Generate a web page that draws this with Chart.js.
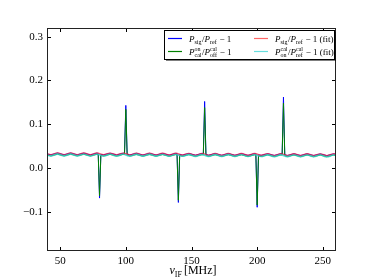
<!DOCTYPE html>
<html>
<head>
<meta charset="utf-8">
<script src="https://cdn.jsdelivr.net/npm/chart.js@4"></script>
<style>
  html, body { margin: 0; padding: 0; background: #fff; }
  #wrap { width: 374px; height: 280px; }
</style>
</head>
<body>
<div id="wrap"><canvas id="c" width="374" height="280"></canvas></div>
<script>
// measured ratios (MHz / fractional)
const measFreq = [40, 43, 48, 53, 58, 63, 68, 73, 78, 79, 80, 81, 83, 88, 93, 98, 99, 100, 101, 103,
  108, 113, 118, 123, 128, 133, 138, 139, 140, 141, 143, 148, 153, 158, 159, 160, 161, 163,
  168, 173, 178, 183, 188, 193, 198, 199, 200, 201, 203, 208, 213, 218, 219, 220, 221, 223,
  228, 233, 238, 243, 248, 253, 258, 260];
const sigRatio = [0.032, 0.030, 0.034, 0.030, 0.034, 0.030, 0.0338, 0.0298, 0.0338, 0.033, -0.069, 0.031, 0.0298, 0.0336, 0.0296, 0.0336, 0.0335, 0.143, 0.032, 0.0296,
  0.0334, 0.0294, 0.0334, 0.0294, 0.0332, 0.0292, 0.0332, 0.033, -0.079, 0.031, 0.0292, 0.033, 0.029, 0.033, 0.0325, 0.152, 0.031, 0.029,
  0.0328, 0.0288, 0.0328, 0.0288, 0.0326, 0.0286, 0.0326, 0.032, -0.090, 0.030, 0.0286, 0.0324, 0.0284, 0.0324, 0.032, 0.162, 0.030, 0.0284,
  0.0322, 0.0282, 0.0322, 0.0282, 0.032, 0.028, 0.032, 0.031];
const calRatio = [0.0295, 0.0275, 0.0315, 0.0275, 0.0315, 0.0275, 0.0313, 0.0273, 0.0313, 0.030, -0.064, 0.029, 0.0273, 0.0311, 0.0271, 0.0311, 0.031, 0.134, 0.030, 0.0271,
  0.0309, 0.0269, 0.0309, 0.0269, 0.0307, 0.0267, 0.0307, 0.030, -0.074, 0.029, 0.0267, 0.0305, 0.0265, 0.0305, 0.030, 0.138, 0.029, 0.0265,
  0.0303, 0.0263, 0.0303, 0.0263, 0.0301, 0.0261, 0.0301, 0.030, -0.085, 0.028, 0.0261, 0.0299, 0.0259, 0.0299, 0.030, 0.148, 0.028, 0.0259,
  0.0297, 0.0257, 0.0297, 0.0257, 0.0295, 0.0255, 0.0295, 0.0285];

// fitted ripple
const fitFreq = [40, 43, 48, 53, 58, 63, 68, 73, 78, 83, 88, 93, 98, 103, 108, 113, 118, 123, 128, 133,
  138, 143, 148, 153, 158, 163, 168, 173, 178, 183, 188, 193, 198, 203, 208, 213, 218, 223,
  228, 233, 238, 243, 248, 253, 258, 260];
const sigFit = [0.032, 0.030, 0.034, 0.030, 0.034, 0.030, 0.0338, 0.0298, 0.0338, 0.0298, 0.0336, 0.0296, 0.0336, 0.0296, 0.0334, 0.0294, 0.0334, 0.0294, 0.0332, 0.0292,
  0.0332, 0.0292, 0.033, 0.029, 0.033, 0.029, 0.0328, 0.0288, 0.0328, 0.0288, 0.0326, 0.0286, 0.0326, 0.0286, 0.0324, 0.0284, 0.0324, 0.0284,
  0.0322, 0.0282, 0.0322, 0.0282, 0.032, 0.028, 0.032, 0.031];
const calFit = [0.0295, 0.0275, 0.0315, 0.0275, 0.0315, 0.0275, 0.0313, 0.0273, 0.0313, 0.0273, 0.0311, 0.0271, 0.0311, 0.0271, 0.0309, 0.0269, 0.0309, 0.0269, 0.0307, 0.0267,
  0.0307, 0.0267, 0.0305, 0.0265, 0.0305, 0.0265, 0.0303, 0.0263, 0.0303, 0.0263, 0.0301, 0.0261, 0.0301, 0.0261, 0.0299, 0.0259, 0.0299, 0.0259,
  0.0297, 0.0257, 0.0297, 0.0257, 0.0295, 0.0255, 0.0295, 0.0285];

const xTicks = [50, 100, 150, 200, 250];
const yTicks = [-0.1, 0.0, 0.1, 0.2, 0.3];

const SERIF = '"Liberation Serif", "DejaVu Serif", serif';
const pts = (xs, ys) => xs.map((x, i) => ({ x, y: ys[i] }));

// legend entries: parts are plain text, italic text, or stacked scripts
const legendItems = [
  { color: '#0000ff', col: 0, row: 0, parts: [{ i: 'P' }, { sub: 'sig' }, { t: '/' }, { i: 'P' }, { sub: 'ref' }, { t: ' − 1' }] },
  { color: '#008000', col: 0, row: 1, parts: [{ i: 'P' }, { sup: 'on', sub: 'cal' }, { t: '/' }, { i: 'P' }, { sup: 'cal', sub: 'off' }, { t: ' − 1' }] },
  { color: 'rgba(255,0,0,0.6)', col: 1, row: 0, parts: [{ i: 'P' }, { sub: 'sig' }, { t: '/' }, { i: 'P' }, { sub: 'ref' }, { t: ' − 1 (fit)' }] },
  { color: 'rgba(0,200,200,0.6)', col: 1, row: 1, parts: [{ i: 'P' }, { sup: 'cal', sub: 'on' }, { t: '/' }, { i: 'P' }, { sup: 'cal', sub: 'ref' }, { t: ' − 1 (fit)' }] },
];

function drawMath(ctx, x, y, parts, size) {
  const small = Math.round(size * 0.65);
  for (const p of parts) {
    if (p.t || p.i) {
      ctx.font = (p.i ? 'italic ' : '') + size + 'px ' + SERIF;
      const s = p.t || p.i;
      ctx.fillText(s, x, y);
      x += ctx.measureText(s).width;
    } else {
      ctx.font = small + 'px ' + SERIF;
      let w = 0;
      if (p.sup) { ctx.fillText(p.sup, x, y - 3.5); w = ctx.measureText(p.sup).width; }
      if (p.sub) { ctx.fillText(p.sub, x, y + 2); w = Math.max(w, ctx.measureText(p.sub).width); }
      x += w + 0.5;
    }
  }
  return x;
}

const decor = {
  id: 'decor',
  afterDraw(chart) {
    const { ctx, chartArea: a, scales: { x, y } } = chart;
    ctx.save();
    ctx.strokeStyle = '#000';
    ctx.lineWidth = 1;
    // inward ticks on all sides
    ctx.beginPath();
    xTicks.forEach(v => {
      const px = Math.round(x.getPixelForValue(v)) + 0.5;
      ctx.moveTo(px, a.bottom); ctx.lineTo(px, a.bottom - 4);
      ctx.moveTo(px, a.top); ctx.lineTo(px, a.top + 4);
    });
    yTicks.forEach(v => {
      const py = Math.round(y.getPixelForValue(v)) + 0.5;
      ctx.moveTo(a.left, py); ctx.lineTo(a.left + 4, py);
      ctx.moveTo(a.right, py); ctx.lineTo(a.right - 4, py);
    });
    ctx.stroke();
    ctx.strokeStyle = '#222';
    ctx.strokeRect(a.left + 0.5, a.top + 0.5, a.width - 1, a.height - 1);

    // legend box with shadow
    const lx = 164, ly = 30, lw = 170, lh = 29;
    ctx.fillStyle = 'rgba(0,0,0,0.5)';
    ctx.fillRect(lx + 2, ly + 2, lw, lh);
    ctx.fillStyle = '#fff';
    ctx.fillRect(lx, ly, lw, lh);
    ctx.strokeStyle = '#000';
    ctx.strokeRect(lx + 0.5, ly + 0.5, lw, lh);
    ctx.textBaseline = 'alphabetic';
    ctx.fillStyle = '#000';
    legendItems.forEach(it => {
      const x0 = it.col ? 254 : 168;
      const yc = it.row ? 51.5 : 38.5;
      ctx.strokeStyle = it.color;
      ctx.lineWidth = 1.2;
      ctx.beginPath(); ctx.moveTo(x0, yc); ctx.lineTo(x0 + 14, yc); ctx.stroke();
      drawMath(ctx, x0 + 21, yc + 3, it.parts, 9);
    });

    // x axis title
    ctx.fillStyle = '#000';
    ctx.font = 'italic 12px ' + SERIF;
    const cx = (a.left + a.right) / 2 - 22;
    ctx.fillText('ν', cx, 274);
    let tx = cx + ctx.measureText('ν').width;
    ctx.font = '8px ' + SERIF;
    ctx.fillText('IF', tx, 277);
    tx += ctx.measureText('IF').width + 2;
    ctx.font = '12px ' + SERIF;
    ctx.fillText('[MHz]', tx, 274);
    ctx.restore();
  }
};

const lineDs = (label, data, color, width, order, tension) => ({
  label, data, borderColor: color, borderWidth: width, pointRadius: 0,
  fill: false, tension, order,
});

new Chart(document.getElementById('c'), {
  type: 'line',
  data: {
    datasets: [
      lineDs('sig', pts(measFreq, sigRatio), '#0000ff', 1, 4, 0),
      lineDs('cal', pts(measFreq, calRatio), '#008000', 1, 3, 0),
      lineDs('sig fit', pts(fitFreq, sigFit), 'rgba(240,20,60,0.75)', 1.6, 2, 0.4),
      lineDs('cal fit', pts(fitFreq, calFit), 'rgba(40,210,200,0.8)', 1.6, 1, 0.4),
    ],
  },
  options: {
    responsive: false,
    animation: false,
    events: [],
    layout: { padding: { left: 0, right: 38, top: 28, bottom: 0 } },
    plugins: { legend: { display: false }, tooltip: { enabled: false } },
    scales: {
      x: {
        type: 'linear', min: 40, max: 260,
        grid: { display: false, drawTicks: false },
        border: { display: false },
        afterBuildTicks: s => { s.ticks = xTicks.map(v => ({ value: v })); },
        afterFit: s => { s.height = 29; },
        ticks: { padding: 4, color: '#000', font: { family: SERIF, size: 11 }, maxRotation: 0 },
      },
      y: {
        type: 'linear', min: -0.19, max: 0.32,
        grid: { display: false, drawTicks: false },
        border: { display: false },
        afterBuildTicks: s => { s.ticks = yTicks.map(v => ({ value: v })); },
        afterFit: s => { s.width = 47; },
        ticks: {
          padding: 4, color: '#000', font: { family: SERIF, size: 11 },
          callback: v => v.toFixed(1).replace('-', '−'),
        },
      },
    },
  },
  plugins: [decor],
});
</script>
</body>
</html>
